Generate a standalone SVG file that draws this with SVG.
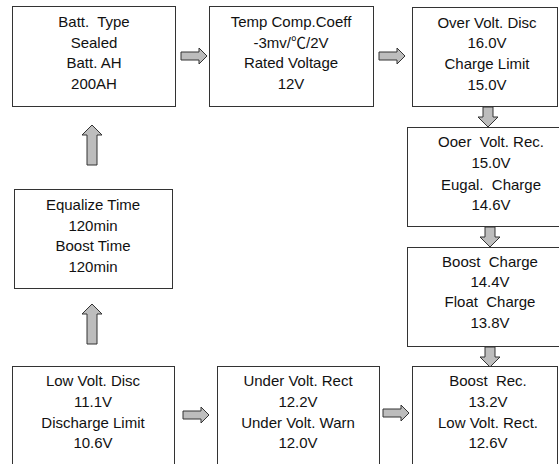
<svg xmlns="http://www.w3.org/2000/svg" width="559" height="464" viewBox="0 0 559 464">
<style>
.box{fill:#fff;stroke:#333;stroke-width:1}
text{font-family:"Liberation Sans",Arial,"Noto Sans CJK SC",sans-serif;font-size:15px;fill:#111;text-anchor:middle;white-space:pre}
.arr{fill:#bdbdbd;stroke:#333;stroke-width:1;stroke-linejoin:miter}
</style>
<defs>
<path id="ar" class="arr" d="M0,-4 L18,-4 L18,-8 L26,0 L18,8 L18,4 L0,4 Z"/>
<path id="ad" class="arr" d="M-5,0 L5,0 L5,10 L10,10 L0,20 L-10,10 L-5,10 Z"/>
<path id="au" class="arr" d="M-5,40 L5,40 L5,10 L10,10 L0,0 L-10,10 L-5,10 Z"/>
</defs>
<rect width="559" height="464" fill="#fff"/>
<g id="connectors">
<use href="#ar" x="181" y="56"/>
<use href="#ar" x="379" y="56"/>
<use href="#ad" x="488" y="107"/>
<use href="#ad" x="490" y="227"/>
<use href="#ad" x="490" y="347"/>
<use href="#ar" x="183" y="415"/>
<use href="#ar" x="383" y="413"/>
<use href="#au" x="92" y="125"/>
<use href="#au" x="92" y="304"/>
</g>
<g id="n1"><rect class="box" x="12.5" y="6.5" width="163" height="100"/>
<text x="94" y="27">Batt.  Type</text><text x="94" y="48">Sealed</text><text x="94" y="68">Batt. AH</text><text x="94" y="89">200AH</text></g>
<g id="n2"><rect class="box" x="209.5" y="6.5" width="164" height="100"/>
<text x="291" y="27">Temp Comp.Coeff</text><text x="291" y="48">-3mv/℃/2V</text><text x="291" y="68">Rated Voltage</text><text x="291" y="89">12V</text></g>
<g id="n3"><rect class="box" x="412.5" y="7.5" width="145" height="99"/>
<text x="487" y="28">Over Volt. Disc</text><text x="487" y="48">16.0V</text><text x="487" y="69">Charge Limit</text><text x="487" y="90">15.0V</text></g>
<g id="n4"><rect class="box" x="407.5" y="127.5" width="170" height="99"/>
<text x="491" y="147">Ooer  Volt. Rec.</text><text x="491" y="168">15.0V</text><text x="491" y="190">Eugal.  Charge</text><text x="491" y="210">14.6V</text></g>
<g id="n5"><rect class="box" x="407.5" y="247.5" width="170" height="99"/>
<text x="490" y="267">Boost  Charge</text><text x="490" y="287">14.4V</text><text x="490" y="307">Float  Charge</text><text x="490" y="328">13.8V</text></g>
<g id="n6"><rect class="box" x="412.5" y="366.5" width="145" height="110"/>
<text x="488" y="386">Boost  Rec.</text><text x="488" y="407">13.2V</text><text x="488" y="428">Low Volt. Rect.</text><text x="488" y="448">12.6V</text></g>
<g id="n7"><rect class="box" x="217.5" y="366.5" width="162" height="110"/>
<text x="298" y="386">Under Volt. Rect</text><text x="298" y="407">12.2V</text><text x="298" y="428">Under Volt. Warn</text><text x="298" y="448">12.0V</text></g>
<g id="n8"><rect class="box" x="12.5" y="366.5" width="162" height="110"/>
<text x="93" y="386">Low Volt. Disc</text><text x="93" y="407">11.1V</text><text x="93" y="428">Discharge Limit</text><text x="93" y="448">10.6V</text></g>
<g id="n9"><rect class="box" x="14.5" y="189.5" width="158" height="99"/>
<text x="93" y="210">Equalize Time</text><text x="93" y="231">120min</text><text x="93" y="251">Boost Time</text><text x="93" y="272">120min</text></g>
</svg>
